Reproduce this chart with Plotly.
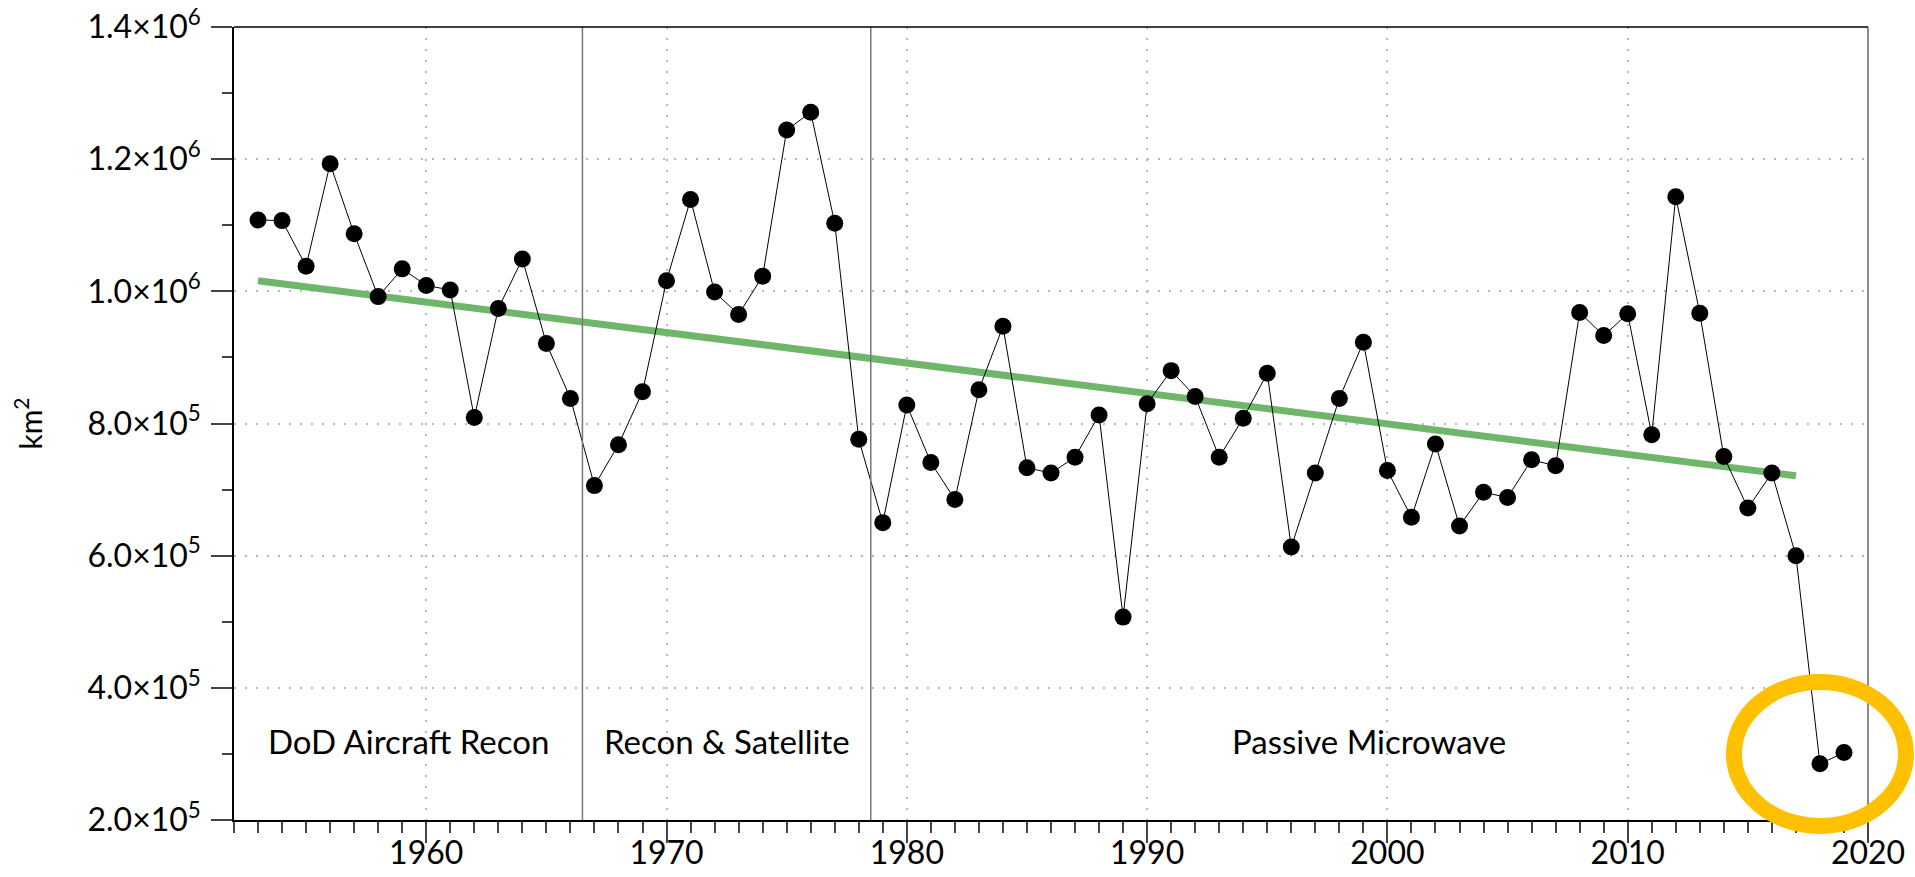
import plotly.graph_objects as go

years = list(range(1953, 2020))
extent = [
    1.108e6, 1.107e6, 1.038e6, 1.193e6, 1.087e6, 0.992e6, 1.034e6, 1.009e6, 1.002e6, 0.809e6,
    0.974e6, 1.049e6, 0.921e6, 0.838e6, 0.706e6, 0.768e6, 0.848e6, 1.016e6, 1.139e6, 0.999e6,
    0.965e6, 1.023e6, 1.244e6, 1.271e6, 1.103e6, 0.776e6, 0.650e6, 0.828e6, 0.741e6, 0.685e6,
    0.851e6, 0.947e6, 0.733e6, 0.725e6, 0.749e6, 0.813e6, 0.507e6, 0.830e6, 0.880e6, 0.841e6,
    0.749e6, 0.808e6, 0.876e6, 0.613e6, 0.725e6, 0.838e6, 0.923e6, 0.729e6, 0.658e6, 0.769e6,
    0.645e6, 0.696e6, 0.688e6, 0.745e6, 0.736e6, 0.968e6, 0.933e6, 0.966e6, 0.783e6, 1.143e6,
    0.967e6, 0.750e6, 0.672e6, 0.725e6, 0.600e6, 0.285e6, 0.302e6,
]
trend_years = [1953, 2017]
trend_vals = [1.016e6, 0.721e6]

era_bounds = [1966.5, 1978.5]
era_labels = ["DoD Aircraft Recon", "Recon & Satellite", "Passive Microwave"]
x_range = [1952, 2020]
y_range = [2.0e5, 1.4e6]
x_ticks = [1960, 1970, 1980, 1990, 2000, 2010, 2020]
y_ticks = [2.0e5, 4.0e5, 6.0e5, 8.0e5, 1.0e6, 1.2e6, 1.4e6]
y_ticktext = ["2.0×10<sup>5</sup>", "4.0×10<sup>5</sup>", "6.0×10<sup>5</sup>", "8.0×10<sup>5</sup>",
              "1.0×10<sup>6</sup>", "1.2×10<sup>6</sup>", "1.4×10<sup>6</sup>"]
highlight = (2018, 3.0e5)

FONT = "Lato"
TICK_SIZE = 32
FIG_W, FIG_H = 1915, 877
ML, MR, MT, MB = 234, 47, 27, 57
PLOT_W = FIG_W - ML - MR
PLOT_H = FIG_H - MT - MB

fig = go.Figure()

fig.add_trace(go.Scatter(
    x=trend_years, y=trend_vals, mode="lines",
    line=dict(color="#6fb66a", width=7), hoverinfo="skip", showlegend=False))

fig.add_trace(go.Scatter(
    x=years, y=extent, mode="lines+markers",
    line=dict(color="black", width=1),
    marker=dict(color="black", size=17),
    showlegend=False))

# era divider lines
for b in era_bounds:
    fig.add_shape(type="line", xref="x", yref="y domain", x0=b, x1=b, y0=0, y1=1,
                  line=dict(color="#777777", width=1.5), layer="above")

# right border (gray)
fig.add_shape(type="line", xref="x domain", yref="y domain", x0=1, x1=1, y0=0, y1=1,
              line=dict(color="#666666", width=1.5), layer="above")
# top border
fig.add_shape(type="line", xref="x domain", yref="y domain", x0=0, x1=1, y0=1, y1=1,
              line=dict(color="black", width=1.5), layer="above")

# era labels
edges = [x_range[0]] + era_bounds + [x_range[1]]
for i, lab in enumerate(era_labels):
    fig.add_annotation(x=(edges[i] + edges[i + 1]) / 2, y=3.2e5, xref="x", yref="y",
                       text=lab, showarrow=False, font=dict(family=FONT, size=33, color="black"),
                       xanchor="center", yanchor="middle")

# highlight ellipse (in domain coords so it is not clipped)
xw = x_range[1] - x_range[0]
yw = y_range[1] - y_range[0]
cx = (highlight[0] - x_range[0]) / xw
cy = (highlight[1] - y_range[0]) / yw
rx = 86 / PLOT_W
ry = 72 / PLOT_H
fig.add_shape(type="circle", xref="x domain", yref="y domain",
              x0=cx - rx, x1=cx + rx, y0=cy - ry, y1=cy + ry,
              line=dict(color="#FFC000", width=16), layer="above")

fig.update_layout(
    template="none",
    width=FIG_W, height=FIG_H,
    margin=dict(l=ML, r=MR, t=MT, b=MB, autoexpand=False),
    plot_bgcolor="white", paper_bgcolor="white",
    font=dict(family=FONT, size=TICK_SIZE, color="black"),
    showlegend=False,
)
fig.update_xaxes(
    range=x_range, tickvals=x_ticks, ticks="outside", ticklen=21, tickwidth=1.5, tickcolor="#444",
    showline=True, linecolor="black", linewidth=1.5, mirror=False, automargin=False,
    showgrid=True, gridcolor="#b8b8b8", griddash="2px,9px", gridwidth=2,
    minor=dict(dtick=1, tick0=1952, ticks="outside", ticklen=11, tickcolor="#444", tickwidth=1.5, showgrid=False),
    tickfont=dict(family=FONT, size=TICK_SIZE), zeroline=False,
    ticklabelstandoff=-17, ticklabeloverflow="allow",
)
fig.update_yaxes(
    range=y_range, tickvals=y_ticks, ticktext=y_ticktext, ticks="outside", ticklen=21, tickwidth=1.5,
    tickcolor="#444", showline=True, linecolor="black", linewidth=1.5, mirror=False, automargin=False,
    showgrid=True, gridcolor="#b8b8b8", griddash="2px,9px", gridwidth=2,
    minor=dict(dtick=1e5, tick0=2e5, ticks="outside", ticklen=10, tickcolor="#444", tickwidth=1.5, showgrid=False),
    tickfont=dict(family=FONT, size=TICK_SIZE), zeroline=False, ticklabeloverflow="allow",
    ticklabelstandoff=4,
    title=dict(text="km<sup>2</sup>", font=dict(family=FONT, size=30), standoff=36),
)

# remove the default 8px page margin so the 1915x877 figure fills the window exactly
fig.write_html("out.html", config={"displayModeBar": False},
               post_script="document.body.style.margin='0';document.body.style.overflow='hidden';")
